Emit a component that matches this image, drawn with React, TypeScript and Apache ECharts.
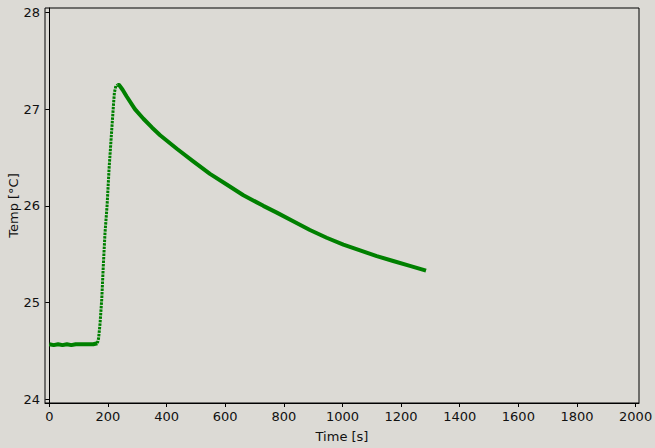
import React, { useEffect, useRef } from "react";
import * as echarts from "echarts";

const xTicks = [0, 200, 400, 600, 800, 1000, 1200, 1400, 1600, 1800, 2000];
const yTicks = [24, 25, 26, 27, 28];

// baseline before heating: [time s, temp °C]
const baseline: [number, number][] = [
  [0, 24.57], [15, 24.56], [30, 24.57], [45, 24.56], [60, 24.57], [75, 24.56],
  [90, 24.57], [105, 24.57], [120, 24.57], [135, 24.57], [150, 24.57], [164, 24.58],
];

// fast rise during heating
const rise: [number, number][] = [
  [164, 24.58], [168, 24.63], [173, 24.78], [179, 25.04], [184, 25.37], [190, 25.72],
  [197, 26.0], [204, 26.39], [213, 26.79], [219, 27.05], [222, 27.17], [227, 27.24], [232, 27.25],
];

// cooling / decay
const decay: [number, number][] = [
  [232, 27.25], [238, 27.25], [250, 27.2], [264, 27.13], [292, 27.0], [321, 26.9],
  [350, 26.81], [378, 26.73], [435, 26.59], [491, 26.46], [548, 26.33], [605, 26.22],
  [662, 26.11], [730, 26.0], [776, 25.93], [832, 25.84], [889, 25.75], [946, 25.67],
  [1003, 25.6], [1060, 25.54], [1117, 25.48], [1173, 25.43], [1230, 25.38], [1285, 25.33],
];

const BG = "#dcdad5";
const GREEN = "#008000";
const FONT = "DejaVu Sans";

export default function App() {
  const ref = useRef<HTMLDivElement>(null);
  useEffect(() => {
    if (!ref.current) return;
    const chart = echarts.init(ref.current, undefined, { renderer: "svg" });
    chart.setOption({
      animation: false,
      backgroundColor: BG,
      textStyle: { fontFamily: FONT },
      grid: {
        left: 45,
        top: 8,
        right: 16,
        bottom: 45,
        show: true,
        containLabel: false,
        outerBoundsMode: "none",
        backgroundColor: BG,
        borderColor: "#000",
        borderWidth: 1,
      },
      xAxis: {
        type: "value",
        min: -14.7,
        max: 2011.5,
        name: "Time [s]",
        nameLocation: "middle",
        nameGap: 27,
        nameMoveOverlap: false,
        nameTextStyle: { fontFamily: FONT, fontSize: 13, color: "#111" },
        axisLine: { show: true, lineStyle: { color: "#000", width: 1 } },
        axisTick: { show: true, length: 4, lineStyle: { color: "#000" }, customValues: xTicks },
        axisLabel: {
          customValues: xTicks,
          formatter: (v: number) => String(v),
          fontFamily: FONT,
          fontSize: 13,
          color: "#111",
          margin: 7,
          showMinLabel: true,
          showMaxLabel: true,
        },
        splitLine: { show: false },
      },
      yAxis: {
        type: "value",
        min: 23.962,
        max: 28.045,
        name: "Temp [°C]",
        nameLocation: "middle",
        nameGap: 25,
        nameMoveOverlap: false,
        nameTextStyle: { fontFamily: FONT, fontSize: 13, color: "#111" },
        axisLine: { show: true, lineStyle: { color: "#000", width: 1 } },
        axisTick: { show: true, length: 4, lineStyle: { color: "#000" }, customValues: yTicks },
        axisLabel: {
          customValues: yTicks,
          formatter: (v: number) => String(v),
          fontFamily: FONT,
          fontSize: 13,
          color: "#111",
          margin: 5,
          showMinLabel: true,
          showMaxLabel: true,
        },
        splitLine: { show: false },
      },
      series: [
        {
          type: "line",
          data: baseline,
          symbol: "none",
          lineStyle: { color: GREEN, width: 4 },
        },
        {
          type: "line",
          data: rise,
          symbol: "none",
          lineStyle: { color: GREEN, width: 3, type: [2.5, 1] },
        },
        {
          type: "line",
          data: decay,
          symbol: "none",
          lineStyle: { color: GREEN, width: 4, join: "round" },
        },
      ],
    });
    return () => chart.dispose();
  }, []);
  return (
    <div
      ref={ref}
      style={{ position: "fixed", left: 0, top: 0, width: 655, height: 448 }}
    />
  );
}
